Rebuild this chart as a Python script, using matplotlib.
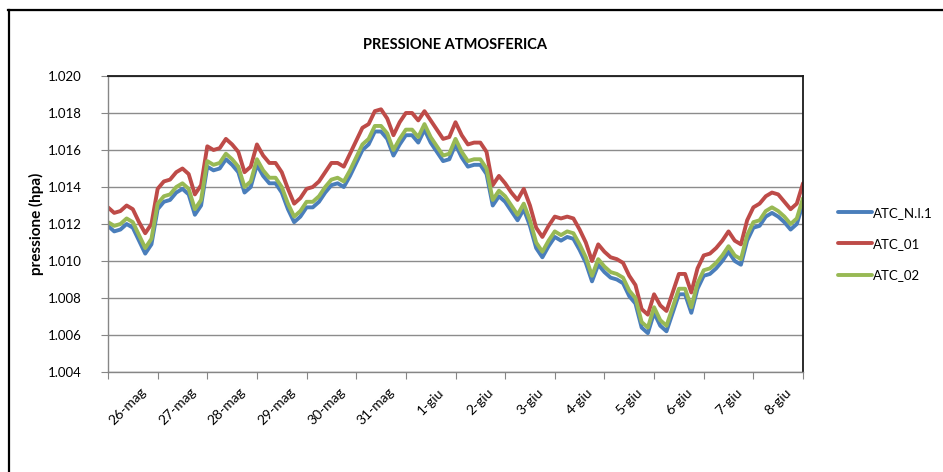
import matplotlib
matplotlib.use("Agg")
import matplotlib.pyplot as plt
import matplotlib.transforms as mtransforms
from matplotlib.lines import Line2D
from matplotlib.ticker import FormatStrFormatter, FixedLocator
import numpy as np

plt.rcParams['font.family'] = ['Lato', 'DejaVu Sans']

# letture ogni 3 ore, dal 26 maggio 00:00 al 9 giugno 00:00
passo_ore = 3
giorni = ["26-mag", "27-mag", "28-mag", "29-mag", "30-mag", "31-mag",
          "1-giu", "2-giu", "3-giu", "4-giu", "5-giu", "6-giu", "7-giu", "8-giu"]

atc_ni1 = [1.0119, 1.0116, 1.0117, 1.0120, 1.0118, 1.0111, 1.0104, 1.0109,
           1.0128, 1.0132, 1.0133, 1.0137, 1.0139, 1.0136, 1.0125, 1.0130,
           1.0151, 1.0149, 1.0150, 1.0155, 1.0152, 1.0148, 1.0137, 1.0140,
           1.0152, 1.0146, 1.0142, 1.0142, 1.0137, 1.0128, 1.0121, 1.0124,
           1.0129, 1.0129, 1.0132, 1.0137, 1.0141, 1.0142, 1.0140, 1.0146,
           1.0153, 1.0160, 1.0163, 1.0170, 1.0170, 1.0166, 1.0157, 1.0163,
           1.0168, 1.0168, 1.0164, 1.0171, 1.0164, 1.0159, 1.0154, 1.0155,
           1.0163, 1.0156, 1.0151, 1.0152, 1.0152, 1.0147, 1.0130, 1.0135,
           1.0132, 1.0127, 1.0122, 1.0128, 1.0119, 1.0107, 1.0102, 1.0108,
           1.0113, 1.0111, 1.0113, 1.0112, 1.0106, 1.0099, 1.0089, 1.0098,
           1.0094, 1.0091, 1.0090, 1.0088, 1.0081, 1.0077, 1.0064, 1.0061,
           1.0072, 1.0065, 1.0062, 1.0072, 1.0082, 1.0082, 1.0072, 1.0085,
           1.0092, 1.0093, 1.0096, 1.0100, 1.0105, 1.0100, 1.0098, 1.0111,
           1.0118, 1.0119, 1.0124, 1.0126, 1.0124, 1.0121, 1.0117, 1.0120,
           1.0131]

atc_01 = [1.0129, 1.0126, 1.0127, 1.0130, 1.0128, 1.0121, 1.0115, 1.0120,
          1.0139, 1.0143, 1.0144, 1.0148, 1.0150, 1.0147, 1.0136, 1.0141,
          1.0162, 1.0160, 1.0161, 1.0166, 1.0163, 1.0159, 1.0148, 1.0151,
          1.0163, 1.0157, 1.0153, 1.0153, 1.0148, 1.0139, 1.0131, 1.0134,
          1.0139, 1.0140, 1.0143, 1.0148, 1.0153, 1.0153, 1.0151, 1.0158,
          1.0165, 1.0172, 1.0174, 1.0181, 1.0182, 1.0177, 1.0168, 1.0175,
          1.0180, 1.0180, 1.0176, 1.0181, 1.0176, 1.0171, 1.0166, 1.0167,
          1.0175, 1.0168, 1.0163, 1.0164, 1.0164, 1.0159, 1.0141, 1.0146,
          1.0142, 1.0137, 1.0133, 1.0139, 1.0130, 1.0118, 1.0113, 1.0119,
          1.0124, 1.0123, 1.0124, 1.0123, 1.0117, 1.0110, 1.0100, 1.0109,
          1.0105, 1.0102, 1.0101, 1.0099, 1.0092, 1.0087, 1.0074, 1.0071,
          1.0082, 1.0076, 1.0073, 1.0083, 1.0093, 1.0093, 1.0083, 1.0096,
          1.0103, 1.0104, 1.0107, 1.0111, 1.0116, 1.0111, 1.0109, 1.0122,
          1.0129, 1.0131, 1.0135, 1.0137, 1.0136, 1.0132, 1.0128, 1.0131,
          1.0142]

atc_02 = [1.0121, 1.0119, 1.0120, 1.0123, 1.0121, 1.0114, 1.0107, 1.0112,
          1.0131, 1.0135, 1.0136, 1.0140, 1.0142, 1.0139, 1.0128, 1.0133,
          1.0154, 1.0152, 1.0153, 1.0158, 1.0155, 1.0151, 1.0140, 1.0143,
          1.0155, 1.0149, 1.0145, 1.0145, 1.0140, 1.0131, 1.0124, 1.0127,
          1.0132, 1.0132, 1.0135, 1.0140, 1.0144, 1.0145, 1.0143, 1.0149,
          1.0156, 1.0163, 1.0166, 1.0173, 1.0173, 1.0169, 1.0160, 1.0166,
          1.0171, 1.0171, 1.0167, 1.0174, 1.0167, 1.0162, 1.0157, 1.0158,
          1.0166, 1.0159, 1.0154, 1.0155, 1.0155, 1.0150, 1.0133, 1.0138,
          1.0135, 1.0130, 1.0125, 1.0131, 1.0122, 1.0110, 1.0105, 1.0111,
          1.0116, 1.0114, 1.0116, 1.0115, 1.0109, 1.0102, 1.0092, 1.0101,
          1.0097, 1.0094, 1.0093, 1.0091, 1.0084, 1.0080, 1.0067, 1.0064,
          1.0075, 1.0068, 1.0065, 1.0075, 1.0085, 1.0085, 1.0075, 1.0088,
          1.0095, 1.0096, 1.0099, 1.0103, 1.0108, 1.0103, 1.0101, 1.0114,
          1.0121, 1.0122, 1.0127, 1.0129, 1.0127, 1.0124, 1.0120, 1.0123,
          1.0134]

serie = [("ATC_N.I.1", atc_ni1, "#4A7EBB"),
         ("ATC_01", atc_01, "#BE4B48"),
         ("ATC_02", atc_02, "#98B954")]

tempo = np.arange(len(atc_ni1)) * passo_ore / 24.0

fig = plt.figure(figsize=(9.43, 4.72), dpi=100)
ax = fig.add_axes([108/943, 1-372/472, 695/943, 296/472])

for nome, valori, colore in serie:
    ax.plot(tempo, valori, color=colore, lw=2.8, label=nome,
            solid_joinstyle='round', solid_capstyle='round')

ax.set_xlim(0, len(giorni))
ax.set_ylim(1.004, 1.020)
ax.set_yticks(np.arange(1.004, 1.0201, 0.002))
ax.yaxis.set_major_formatter(FormatStrFormatter('%.3f'))
ax.yaxis.grid(True, color='#8C8C8C', lw=1)
ax.set_axisbelow(True)

# tacche ai confini dei giorni, etichette al centro
ax.xaxis.set_major_locator(FixedLocator(np.arange(0, len(giorni)+1)))
ax.xaxis.set_minor_locator(FixedLocator(np.arange(len(giorni)) + 0.5))
ax.set_xticklabels([], minor=False)
ax.set_xticklabels(giorni, minor=True, rotation=45, ha='right',
                   rotation_mode='anchor', fontsize=10)
ax.tick_params(axis='x', which='minor', length=0, pad=10)
ax.tick_params(axis='x', which='major', length=5, color='#868686', direction='out')
ax.tick_params(axis='y', length=5, color='#868686', direction='out', pad=14,
               labelsize=9.5)
sposta = mtransforms.ScaledTranslation(5/72, 0, fig.dpi_scale_trans)
for lab in ax.xaxis.get_minorticklabels():
    lab.set_transform(lab.get_transform() + sposta)

for lato in ['left', 'bottom']:
    ax.spines[lato].set_color('#868686')
    ax.spines[lato].set_linewidth(1)
for lato in ['top', 'right']:
    ax.spines[lato].set_color('#1A1A1A')
    ax.spines[lato].set_linewidth(1.3)

ax.set_ylabel("pressione (hpa)", fontsize=11, fontweight='bold')
ax.yaxis.set_label_coords(-64/695, 0.5)

fig.text(455/943, 1-45/472, "PRESSIONE ATMOSFERICA", ha='center', va='center',
         fontsize=10.5, fontweight='bold')

ax.legend(loc='center left', bbox_to_anchor=(826/943, 1-244/472),
          bbox_transform=fig.transFigure, frameon=False, fontsize=9.5,
          handlelength=2.6, handletextpad=0.05, labelspacing=1.45)

# cornice esterna del grafico
fig.add_artist(Line2D([8/943, 1], [1-10/472, 1-10/472], color='#C8C8C8', lw=1,
                      transform=fig.transFigure))
fig.add_artist(Line2D([8/943, 1], [1-9.5/472, 1-9.5/472], color='black', lw=1.6,
                      transform=fig.transFigure))
fig.add_artist(Line2D([8.5/943, 8.5/943], [0, 1-9.5/472], color='black', lw=1.6,
                      transform=fig.transFigure))

fig.savefig("out.png", dpi=100)
